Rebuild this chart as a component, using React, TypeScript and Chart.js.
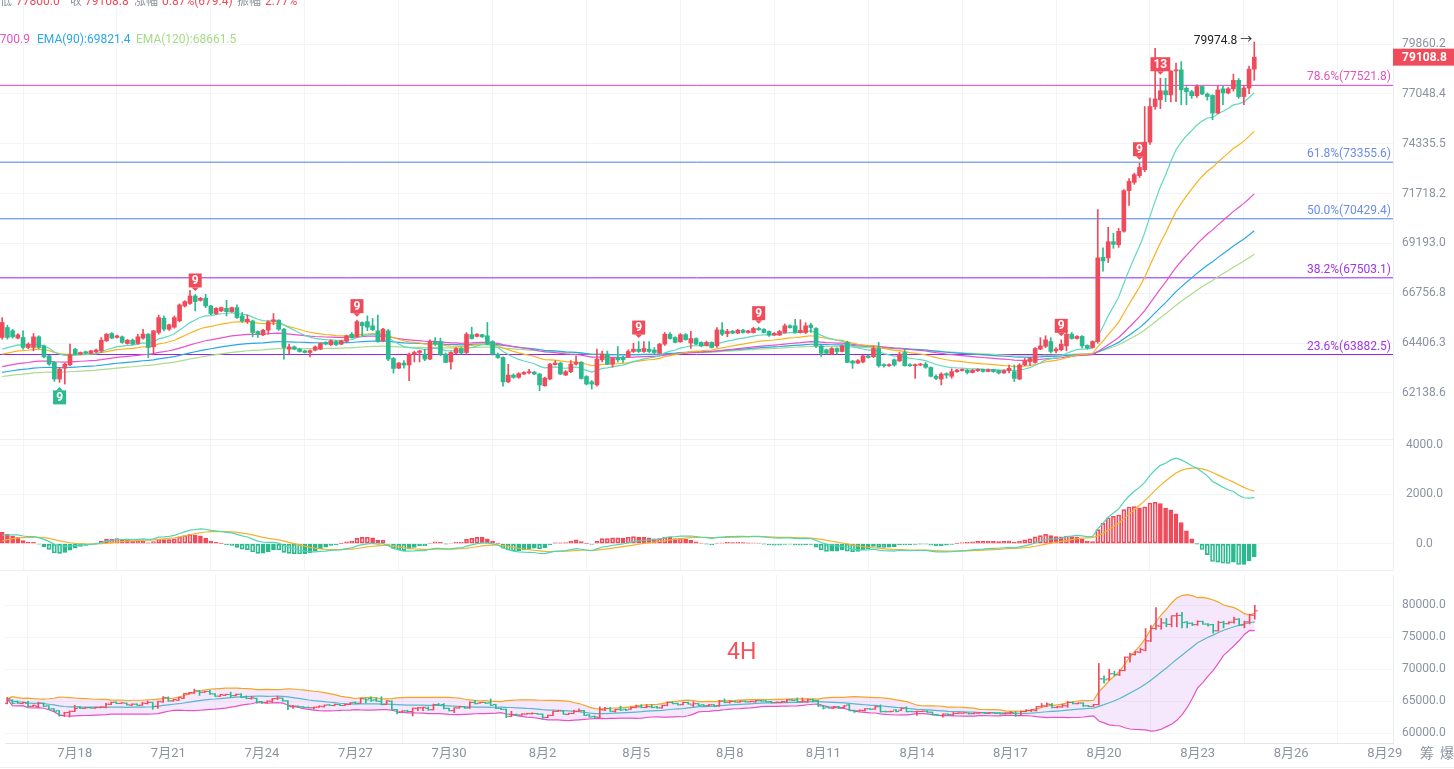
import React, { useEffect, useRef } from 'react';
import { Chart, registerables } from 'chart.js';

Chart.register(...registerables);

// ---------- 4H candles (7/15 20:00 .. 8/24 20:00) ----------
const OPEN = [
  64670, 65135, 64980, 64640, 64670, 64205, 64205, 64700, 64280, 63820,
  63520, 62765, 63260, 63410, 64128, 63899, 64010, 63930, 64000, 64050,
  64515, 64855, 64670, 64700, 64390, 64545, 64390, 64640, 64823, 64235,
  64900, 65570, 65055, 65150, 65450, 66150, 66270, 66630, 66420, 66520,
  66150, 65790, 65915, 66040, 65880, 66070, 65680, 65410, 65440, 64950,
  64790, 65010, 65410, 65480, 65055, 64128, 64235, 64128, 64050, 63975,
  64080, 64128, 64440, 64330, 64480, 64360, 64490, 64823, 64700, 65370,
  65410, 65215, 64980, 64515, 64980, 63700, 63260, 63490, 63400, 63899,
  63975, 63899, 63671, 64480, 64480, 63899, 63540, 63950, 64160, 63975,
  64800, 64720, 64800, 64745, 64480, 63899, 63745, 62640, 62945, 62840,
  62990, 63050, 63080, 62990, 62465, 62765, 63420, 63490, 62945, 63100,
  63443, 63520, 62880, 62640, 62500, 63640, 63899, 63443, 63750, 63760,
  63780, 64020, 64128, 64020, 64128, 64090, 63950, 64360, 64823, 64670,
  64470, 64800, 64410, 64620, 64440, 64300, 64440, 64280, 65020, 64850,
  64960, 64870, 65010, 64900, 64900, 65090, 65050, 64950, 64780, 64780,
  64900, 65215, 65215, 64900, 64900, 65250, 65090, 64280, 64100, 63899,
  64160, 64020, 64440, 63580, 63490, 63540, 63820, 63780, 64160, 63420,
  63370, 63640, 63590, 63975, 63420, 63370, 63400, 63440, 63290, 62890,
  62765, 63010, 62890, 63100, 63150, 63170, 63060, 63140, 63200, 63110,
  63190, 63150, 63040, 63150, 63100, 62765, 63400, 63560, 63520, 64128,
  64260, 64480, 64050, 64100, 64280, 64823, 64620, 64720, 64300, 64205,
  64480, 68500, 68480, 69280, 69130, 69800, 71870, 72300, 72650, 72960,
  74420, 76350, 76720, 77220, 76990, 78330, 78390, 77360, 77170, 76950,
  77460, 77040, 76960, 75990, 77330, 77100, 77330, 77800, 76900, 77370,
  78429.4,
];
const HIGH = [
  65600, 65240, 65055, 64850, 64980, 64420, 64855, 64750, 64320, 63850,
  63560, 63290, 63480, 64360, 64160, 64000, 64040, 64080, 64130, 64670,
  64850, 64900, 64780, 64740, 64580, 64600, 64820, 65055, 64850, 65000,
  65720, 65680, 65300, 65680, 66250, 66400, 66900, 66700, 66560, 66708,
  66180, 66080, 66100, 66420, 66100, 66200, 65840, 65720, 65480, 64980,
  65050, 65450, 65790, 65500, 65100, 64360, 64280, 64160, 64080, 64100,
  64280, 64420, 64470, 64560, 64530, 64550, 64780, 64900, 65480, 65400,
  65680, 65560, 65720, 65100, 65050, 63750, 63520, 63600, 63950, 64040,
  64080, 64128, 64560, 64660, 64640, 63950, 64000, 64200, 64200, 64900,
  65150, 64850, 64820, 65370, 64520, 63950, 63780, 63430, 63000, 63050,
  63100, 63200, 63120, 63020, 62850, 63480, 63600, 63530, 63150, 63600,
  63820, 63560, 62920, 62700, 64128, 64040, 64040, 63750, 64250, 63800,
  64100, 64400, 64480, 64480, 64480, 64200, 64400, 64900, 64900, 64700,
  64850, 64850, 64950, 64650, 64470, 64500, 64470, 65130, 65370, 65050,
  65000, 65050, 65050, 65000, 65150, 65150, 65080, 64980, 64900, 65000,
  65300, 65260, 65520, 65500, 65360, 65330, 65130, 64310, 64130, 64200,
  64190, 64310, 64500, 63620, 63650, 63860, 63860, 64250, 64440, 63450,
  63450, 63680, 63990, 64130, 63450, 63450, 63480, 63520, 63320, 62950,
  63050, 63050, 63230, 63200, 63230, 63200, 63200, 63230, 63220, 63220,
  63210, 63170, 63180, 63400, 63400, 63460, 63700, 63750, 64200, 64660,
  64750, 64660, 64200, 64560, 65000, 64900, 64760, 64760, 64330, 64520,
  70900, 68980, 70000, 69700, 69950, 71930, 72500, 72780, 73300, 76350,
  76810, 79610, 77920, 77920, 78330, 78780, 78860, 77450, 77250, 77550,
  77500, 77100, 77000, 77500, 77500, 77400, 78150, 77900, 77500, 78600,
  79974.8,
];
const LOW = [
  64590, 64590, 64640, 64600, 64128, 64150, 64050, 64150, 63720, 63400,
  62660, 62615, 62540, 63370, 63860, 63870, 63900, 63900, 63970, 63975,
  64480, 64610, 64640, 64400, 64360, 64330, 64360, 64590, 63745, 63899,
  64820, 64980, 65000, 65100, 65400, 66100, 66230, 65915, 66380, 66070,
  65740, 65750, 65880, 65680, 65850, 65560, 65380, 65330, 64700, 64670,
  64750, 64823, 65260, 65000, 63671, 63899, 64100, 63990, 63950, 63775,
  64050, 64100, 64330, 64300, 64300, 64330, 64460, 64640, 64670, 64745,
  64980, 64980, 64450, 64480, 63600, 63030, 63230, 63260, 62690, 63540,
  63540, 63600, 63640, 64300, 63820, 63500, 63217, 63920, 63900, 63899,
  64590, 64700, 64670, 64330, 63850, 63700, 62440, 62600, 62800, 62800,
  62970, 63000, 62960, 62240, 62440, 62740, 63400, 62960, 62920, 63050,
  63400, 62760, 62500, 62317, 62440, 63540, 63420, 63300, 63540, 63520,
  63740, 63975, 63975, 63975, 63975, 63900, 63900, 64300, 64590, 64420,
  64440, 64540, 64160, 64330, 64250, 64280, 64180, 64205, 64750, 64700,
  64840, 64850, 64870, 64870, 64870, 65000, 64880, 64720, 64760, 64760,
  64870, 65100, 64870, 64870, 64850, 64900, 64200, 63790, 63900, 63870,
  63900, 64000, 63500, 63250, 63460, 63500, 63720, 63740, 63300, 63300,
  63340, 63350, 63560, 63350, 63340, 62795, 63370, 63250, 62860, 62740,
  62500, 62800, 62800, 63060, 63120, 62990, 63040, 63110, 63080, 63090,
  63070, 62990, 63020, 63040, 62650, 62740, 63370, 63380, 63480, 64100,
  64200, 63950, 63950, 64050, 64050, 64590, 64590, 64180, 64130, 64180,
  64400, 67830, 68250, 68950, 69000, 69750, 71110, 72200, 72550, 72860,
  74300, 76200, 76230, 76620, 76600, 76620, 76450, 76450, 76800, 76850,
  77000, 76700, 75625, 75950, 76450, 77050, 77200, 76800, 76450, 77060,
  77800,
];
const CLOSE = [
  65370, 64670, 64700, 64790, 64205, 64360, 64700, 64205, 63775, 63443,
  62765, 63215, 63440, 63865, 63899, 63975, 63940, 64050, 64090, 64545,
  64823, 64640, 64745, 64440, 64545, 64360, 64700, 64823, 64205, 64980,
  65600, 65055, 65260, 65600, 66200, 66360, 66630, 66360, 66520, 66150,
  65790, 66040, 66070, 65880, 66070, 65600, 65440, 65523, 64900, 64823,
  65010, 65410, 65500, 65055, 64205, 64235, 64128, 64020, 63975, 64060,
  64235, 64390, 64360, 64515, 64330, 64515, 64745, 64670, 65410, 65215,
  65150, 65030, 64470, 65055, 63671, 63245, 63490, 63400, 63899, 63975,
  64050, 63671, 64480, 64360, 63899, 63520, 63975, 64160, 63950, 64823,
  64620, 64823, 64700, 64360, 63899, 63745, 62640, 62945, 62840, 63010,
  63065, 63100, 62990, 62500, 62810, 63443, 63490, 62990, 63100, 63443,
  63520, 62790, 62540, 62540, 63671, 63899, 63443, 63700, 63640, 63640,
  64020, 64128, 64020, 64160, 64020, 63975, 64360, 64823, 64620, 64440,
  64800, 64570, 64620, 64360, 64280, 64440, 64205, 65020, 64823, 64950,
  64870, 65010, 64900, 64980, 65090, 65030, 64900, 64780, 64860, 64950,
  65215, 65130, 64900, 65000, 65215, 65130, 64280, 63940, 63940, 64160,
  64020, 64280, 63520, 63490, 63600, 63820, 63745, 64160, 63370, 63370,
  63420, 63400, 63899, 63370, 63370, 63420, 63440, 63300, 62890, 62790,
  62990, 62940, 63100, 63170, 63200, 63060, 63170, 63200, 63110, 63190,
  63100, 63040, 63150, 63250, 62795, 63400, 63590, 63700, 64160, 64280,
  64560, 64020, 64130, 64360, 64823, 64620, 64720, 64280, 64180, 64480,
  68480, 68330, 69280, 69150, 69800, 71870, 72350, 72700, 73080, 74420,
  76350, 76770, 77220, 77000, 78330, 78390, 77270, 77170, 76950, 77460,
  77040, 76900, 75990, 77270, 77100, 77330, 77800, 76900, 77370, 78429.4,
  79108.8,
];

// ---------- axes / labels ----------
const DATE_TICK_IDX = [13, 31, 49, 67, 85, 103, 121, 139, 157, 175, 193, 211, 229, 247, 265];
const DATE_LABELS = ['7月18', '7月21', '7月24', '7月27', '7月30', '8月2', '8月5', '8月8', '8月11', '8月14', '8月17', '8月20', '8月23', '8月26', '8月29'];
const MAIN_TICKS = [79860.2, 77048.4, 74335.5, 71718.2, 69193.0, 66756.8, 64406.3, 62138.6];
const MACD_TICKS = [4000, 2000, 0];
const BB_TICKS = [80000, 75000, 70000, 65000, 60000];

// ---------- fibonacci ----------
const FIB_LEVELS = [77521.8, 73355.6, 70429.4, 67503.1, 63882.5];
const FIB_NAMES = ['78.6%', '61.8%', '50.0%', '38.2%', '23.6%'];

// ---------- indicators (periods and starting values read at first candle) ----------
const EMA_PERIODS = [15, 30, 60, 90, 120];
const EMA_START = [64128, 63900, 63330, 63070, 62880];
const MACD_SEED = [64295, 63950, 115]; // ema12, ema26, dea at first candle
const BB_PERIOD = 20;

// ---------- TD sequential markers ----------
const TD_UP_IDX = [37, 68, 122, 145, 203, 218, 222];
const TD_UP_TEXT = ['9', '9', '9', '9', '9', '9', '13'];
const TD_DOWN_IDX = [11];
const TD_DOWN_TEXT = ['9'];

// ---------- styling ----------
const RED = '#f04b5b';
const GREEN = '#2bb98e';
const EMA_COLORS = ['#5fd9bf', '#f9b21d', '#e852cc', '#2aa7e6', '#a9dc8c'];
const FIB_COLORS = ['#e040c0', '#4a80e4', '#4a80e4', '#9a22e6', '#9a22e6'];
const FIB_TEXT = ['#e055c0', '#6b8ce8', '#6b8ce8', '#a035e6', '#a035e6'];
const GRID = '#f3f4f6';
const AXIS_TEXT = '#8c93a0';
const FONT = 'Roboto, "Noto Sans CJK SC", sans-serif';
const X_MIN = -0.42;
const X_MAX = 266.59;
const W = 1454;

function emaSeries(src: number[], period: number, start: number) {
  const a = 2 / (period + 1);
  const out = [start];
  for (let i = 1; i < src.length; i++) out.push(out[i - 1] + a * (src[i] - out[i - 1]));
  return out;
}

function xAxis(show: boolean): any {
  return {
    type: 'linear',
    min: X_MIN,
    max: X_MAX,
    offset: false,
    bounds: 'data',
    afterBuildTicks: (s: any) => {
      s.ticks = DATE_TICK_IDX.map((v) => ({ value: v }));
    },
    afterFit: (s: any) => {
      s.height = show ? 26 : 0;
      s.paddingLeft = 0;
      s.paddingRight = 0;
      s.paddingTop = 0;
      s.paddingBottom = 0;
    },
    grid: { color: GRID, drawTicks: false, lineWidth: 1 },
    border: { display: show, color: '#e4e6e9' },
    ticks: {
      display: show,
      autoSkip: false,
      maxRotation: 0,
      padding: 3,
      color: AXIS_TEXT,
      font: { family: FONT, size: 13 },
      callback: (v: any) => {
        const k = DATE_TICK_IDX.indexOf(Number(v));
        return k >= 0 ? DATE_LABELS[k] : '';
      },
    },
  };
}

function yAxis(type: string, min: number, max: number, ticks: number[], pad: number): any {
  return {
    type,
    position: 'right',
    min,
    max,
    bounds: 'data',
    afterFit: (s: any) => {
      s.width = 61;
      s.paddingTop = 0;
      s.paddingBottom = 0;
      s.paddingLeft = 0;
      s.paddingRight = 0;
    },
    afterBuildTicks: (s: any) => {
      s.ticks = ticks.map((v) => ({ value: v }));
    },
    grid: { color: GRID, drawTicks: false },
    border: { display: true, color: '#eceef1' },
    ticks: {
      padding: pad,
      crossAlign: 'center',
      color: AXIS_TEXT,
      font: { family: FONT, size: 12 },
      callback: (v: any) => Number(v).toFixed(1),
    },
  };
}

const baseOptions = {
  responsive: false,
  animation: false as const,
  events: [] as any[],
  layout: { padding: 0 },
  plugins: { legend: { display: false }, tooltip: { enabled: false } },
};

export default function App() {
  const mainRef = useRef<HTMLCanvasElement>(null);
  const macdRef = useRef<HTMLCanvasElement>(null);
  const bbRef = useRef<HTMLCanvasElement>(null);

  useEffect(() => {
    document.body.style.margin = '0';
    Chart.defaults.font.family = FONT;
    const idx = CLOSE.map((_, i) => i);
    const last = CLOSE.length - 1;
    const col = idx.map((i) => (CLOSE[i] >= OPEN[i] ? RED : GREEN));
    const wickData = idx.map((i) => ({
      x: i,
      y: [Math.min(LOW[i], OPEN[i], CLOSE[i]), Math.max(HIGH[i], OPEN[i], CLOSE[i])],
    }));

    // EMAs
    const emas = EMA_PERIODS.map((p, k) => emaSeries(CLOSE, p, EMA_START[k]));

    // MACD
    const e12 = [MACD_SEED[0]];
    const e26 = [MACD_SEED[1]];
    for (let i = 1; i < CLOSE.length; i++) {
      e12.push(e12[i - 1] + (2 / 13) * (CLOSE[i] - e12[i - 1]));
      e26.push(e26[i - 1] + (2 / 27) * (CLOSE[i] - e26[i - 1]));
    }
    const dif = idx.map((i) => e12[i] - e26[i]);
    const dea = [MACD_SEED[2]];
    for (let i = 1; i < CLOSE.length; i++) dea.push(dea[i - 1] + 0.2 * (dif[i] - dea[i - 1]));
    const hist = idx.map((i) => 2 * (dif[i] - dea[i]));
    const histHollow = idx.map((i) => i > 0 && Math.abs(hist[i]) > Math.abs(hist[i - 1]));
    const histBorder = idx.map((i) => (hist[i] >= 0 ? RED : GREEN));
    const histFill = idx.map((i) =>
      histHollow[i] ? (hist[i] >= 0 ? 'rgba(240,75,91,0.16)' : 'rgba(43,185,142,0.14)') : hist[i] >= 0 ? RED : GREEN
    );

    // Bollinger
    const bbMid: number[] = [];
    const bbUp: number[] = [];
    const bbLow: number[] = [];
    idx.forEach((i) => {
      const s = CLOSE.slice(Math.max(0, i - BB_PERIOD + 1), i + 1);
      const m = s.reduce((a, b) => a + b, 0) / s.length;
      const sd = Math.sqrt(s.reduce((a, b) => a + (b - m) * (b - m), 0) / s.length);
      bbMid.push(m);
      bbUp.push(m + 2 * sd);
      bbLow.push(m - 2 * sd);
    });

    const overlay = {
      id: 'overlay',
      afterDraw(chart: any) {
        const { ctx, chartArea } = chart;
        const xs = chart.scales.x;
        const ys = chart.scales.y;
        ctx.save();
        // fib labels
        ctx.font = `12px ${FONT}`;
        ctx.textAlign = 'right';
        ctx.textBaseline = 'alphabetic';
        FIB_LEVELS.forEach((v, k) => {
          const py = ys.getPixelForValue(v);
          ctx.fillStyle = FIB_TEXT[k];
          ctx.fillText(`${FIB_NAMES[k]}(${v.toFixed(1)})`, chartArea.right - 2, py - 5);
        });
        // TD markers
        const marker = (cx: number, cy: number, text: string, color: string, down: boolean) => {
          ctx.font = `bold 12px ${FONT}`;
          const w = Math.max(13, ctx.measureText(text).width + 6);
          const h = 14;
          ctx.fillStyle = color;
          ctx.strokeStyle = 'rgba(255,255,255,0.35)';
          ctx.lineWidth = 1;
          ctx.fillRect(cx - w / 2, cy - h / 2, w, h);
          ctx.beginPath();
          if (down) {
            ctx.moveTo(cx - 3.5, cy + h / 2);
            ctx.lineTo(cx + 3.5, cy + h / 2);
            ctx.lineTo(cx, cy + h / 2 + 3.5);
          } else {
            ctx.moveTo(cx - 3.5, cy - h / 2);
            ctx.lineTo(cx + 3.5, cy - h / 2);
            ctx.lineTo(cx, cy - h / 2 - 3.5);
          }
          ctx.closePath();
          ctx.fill();
          ctx.fillStyle = '#fff';
          ctx.textAlign = 'center';
          ctx.textBaseline = 'middle';
          ctx.fillText(text, cx, cy + 0.5);
        };
        TD_UP_IDX.forEach((i, k) =>
          marker(xs.getPixelForValue(i), ys.getPixelForValue(HIGH[i]) - 14, TD_UP_TEXT[k], RED, true)
        );
        TD_DOWN_IDX.forEach((i, k) =>
          marker(xs.getPixelForValue(i), ys.getPixelForValue(LOW[i]) + 15, TD_DOWN_TEXT[k], GREEN, false)
        );
        // high note
        const hx = xs.getPixelForValue(last);
        const hy = ys.getPixelForValue(HIGH[last]);
        ctx.font = `12px ${FONT}`;
        ctx.fillStyle = '#222';
        ctx.textAlign = 'right';
        ctx.textBaseline = 'middle';
        ctx.fillText(`${HIGH[last].toFixed(1)} →`, hx - 2, hy - 1);
        // last price tag
        const py = ys.getPixelForValue(CLOSE[last]);
        ctx.fillStyle = RED;
        ctx.fillRect(chartArea.right, py - 8.5, chart.width - chartArea.right, 17);
        ctx.fillStyle = '#fff';
        ctx.font = `bold 12px ${FONT}`;
        ctx.textAlign = 'center';
        ctx.fillText(CLOSE[last].toFixed(1), (chartArea.right + chart.width) / 2 + 1, py + 0.5);
        ctx.restore();
      },
    };

    const charts: Chart[] = [];

    charts.push(
      new Chart(mainRef.current as HTMLCanvasElement, {
        type: 'bar',
        data: {
          datasets: [
            { type: 'bar', data: wickData as any, backgroundColor: col, barThickness: 1, grouped: false, order: 0 } as any,
            {
              type: 'bar',
              data: idx.map((i) => ({ x: i, y: [OPEN[i], CLOSE[i]] })),
              backgroundColor: col,
              barThickness: 4,
              minBarLength: 1,
              grouped: false,
              order: 0,
            } as any,
            ...emas.map((e, k) => ({
              type: 'line',
              data: e.map((v, i) => ({ x: i, y: v })),
              borderColor: EMA_COLORS[k],
              borderWidth: 1.2,
              pointRadius: 0,
              tension: 0,
              order: 1,
            })),
            ...FIB_LEVELS.map((v, k) => ({
              type: 'line',
              data: [
                { x: X_MIN, y: v },
                { x: X_MAX, y: v },
              ],
              borderColor: FIB_COLORS[k],
              borderWidth: 1,
              pointRadius: 0,
              order: 2,
            })),
          ] as any,
        },
        options: {
          ...baseOptions,
          scales: {
            x: xAxis(false),
            y: yAxis('logarithmic', 60117, 82428, MAIN_TICKS, 9),
          },
        } as any,
        plugins: [overlay],
      })
    );

    charts.push(
      new Chart(macdRef.current as HTMLCanvasElement, {
        type: 'bar',
        data: {
          datasets: [
            {
              type: 'bar',
              data: idx.map((i) => ({ x: i, y: hist[i] })),
              backgroundColor: histFill,
              borderColor: histBorder,
              borderWidth: 1,
              borderSkipped: false,
              barThickness: 4,
              grouped: false,
              order: 1,
            },
            {
              type: 'line',
              data: dif.map((v, i) => ({ x: i, y: v })),
              borderColor: '#4fd6b8',
              borderWidth: 1.2,
              pointRadius: 0,
              order: 0,
            },
            {
              type: 'line',
              data: dea.map((v, i) => ({ x: i, y: v })),
              borderColor: '#f7b12a',
              borderWidth: 1.2,
              pointRadius: 0,
              order: 0,
            },
          ] as any,
        },
        options: {
          ...baseOptions,
          scales: {
            x: xAxis(false),
            y: yAxis('linear', -1075, 4256, MACD_TICKS, 13),
          },
        } as any,
      })
    );

    charts.push(
      new Chart(bbRef.current as HTMLCanvasElement, {
        type: 'bar',
        data: {
          datasets: [
            {
              type: 'line',
              data: bbUp.map((v, i) => ({ x: i, y: v })),
              borderColor: '#f5a524',
              borderWidth: 1.2,
              pointRadius: 0,
              fill: '+2',
              backgroundColor: 'rgba(206,140,238,0.2)',
              order: 2,
            },
            {
              type: 'line',
              data: bbMid.map((v, i) => ({ x: i, y: v })),
              borderColor: '#3cc2c2',
              borderWidth: 1.2,
              pointRadius: 0,
              order: 2,
            },
            {
              type: 'line',
              data: bbLow.map((v, i) => ({ x: i, y: v })),
              borderColor: '#e84fbf',
              borderWidth: 1.2,
              pointRadius: 0,
              order: 2,
            },
            { type: 'bar', data: wickData, backgroundColor: col, barThickness: 1, grouped: false, order: 0 },
            {
              type: 'line',
              showLine: false,
              data: idx.map((i) => ({ x: i - 0.3, y: OPEN[i] })),
              pointStyle: 'line',
              pointRadius: 1.5,
              pointBorderWidth: 1,
              pointBorderColor: col,
              pointBackgroundColor: col,
              order: 0,
            },
            {
              type: 'line',
              showLine: false,
              data: idx.map((i) => ({ x: i + 0.3, y: CLOSE[i] })),
              pointStyle: 'line',
              pointRadius: 1.5,
              pointBorderWidth: 1,
              pointBorderColor: col,
              pointBackgroundColor: col,
              order: 0,
            },
          ] as any,
        },
        options: {
          ...baseOptions,
          scales: {
            x: xAxis(true),
            y: yAxis('linear', 58485, 84697, BB_TICKS, 9),
          },
        } as any,
      })
    );

    return () => charts.forEach((c) => c.destroy());
  }, []);

  const abs = (o: any) => ({ position: 'absolute' as const, whiteSpace: 'nowrap' as const, ...o });
  const hdrGray = '#8a909c';

  return (
    <div style={{ position: 'relative', width: W, height: 769, overflow: 'hidden', background: '#fff', fontFamily: FONT }}>
      <canvas ref={mainRef} width={W} height={439} style={{ position: 'absolute', left: 0, top: 0 }} />
      <canvas ref={macdRef} width={W} height={131} style={{ position: 'absolute', left: 0, top: 439 }} />
      <canvas ref={bbRef} width={W} height={199} style={{ position: 'absolute', left: 0, top: 570 }} />
      <div style={abs({ left: 0, top: 439, width: 1393, height: 1, background: '#eceef1' })} />
      <div style={abs({ left: 0, top: 570, width: 1393, height: 1, background: '#eceef1' })} />
      <div style={abs({ left: 0, top: 767, width: W, height: 1, background: '#eceef1' })} />

      {/* header (cut at top) */}
      <div style={{ position: 'absolute', left: 0, top: -6, fontSize: 12, lineHeight: '14px', width: 400, height: 20 }}>
        <span style={abs({ left: 0, color: hdrGray })}>低</span>
        <span style={abs({ left: 16, color: RED })}>77800.0</span>
        <span style={abs({ left: 70, color: hdrGray })}>收</span>
        <span style={abs({ left: 85, color: RED })}>79108.8</span>
        <span style={abs({ left: 134, color: hdrGray })}>涨幅</span>
        <span style={abs({ left: 162, color: RED })}>0.87%(679.4)</span>
        <span style={abs({ left: 237, color: hdrGray })}>振幅</span>
        <span style={abs({ left: 265, color: RED })}>2.77%</span>
      </div>

      {/* EMA legend */}
      <div style={{ position: 'absolute', left: 0, top: 32, fontSize: 12, lineHeight: '14px', width: 400, height: 16 }}>
        <span style={abs({ left: 30, transform: 'translateX(-100%)', color: '#e055c8' })}>EMA(60):71700.9</span>
        <span style={abs({ left: 37, color: '#2aa7e6' })}>EMA(90):69821.4</span>
        <span style={abs({ left: 136, color: '#a5da88' })}>EMA(120):68661.5</span>
      </div>

      <div style={abs({ left: 727, top: 638, fontSize: 23, lineHeight: '28px', color: '#f0525e' })}>4H</div>
      <div style={abs({ left: 1420, top: 744, fontSize: 14, lineHeight: '18px', color: AXIS_TEXT, letterSpacing: 6 })}>筹爆</div>
    </div>
  );
}
